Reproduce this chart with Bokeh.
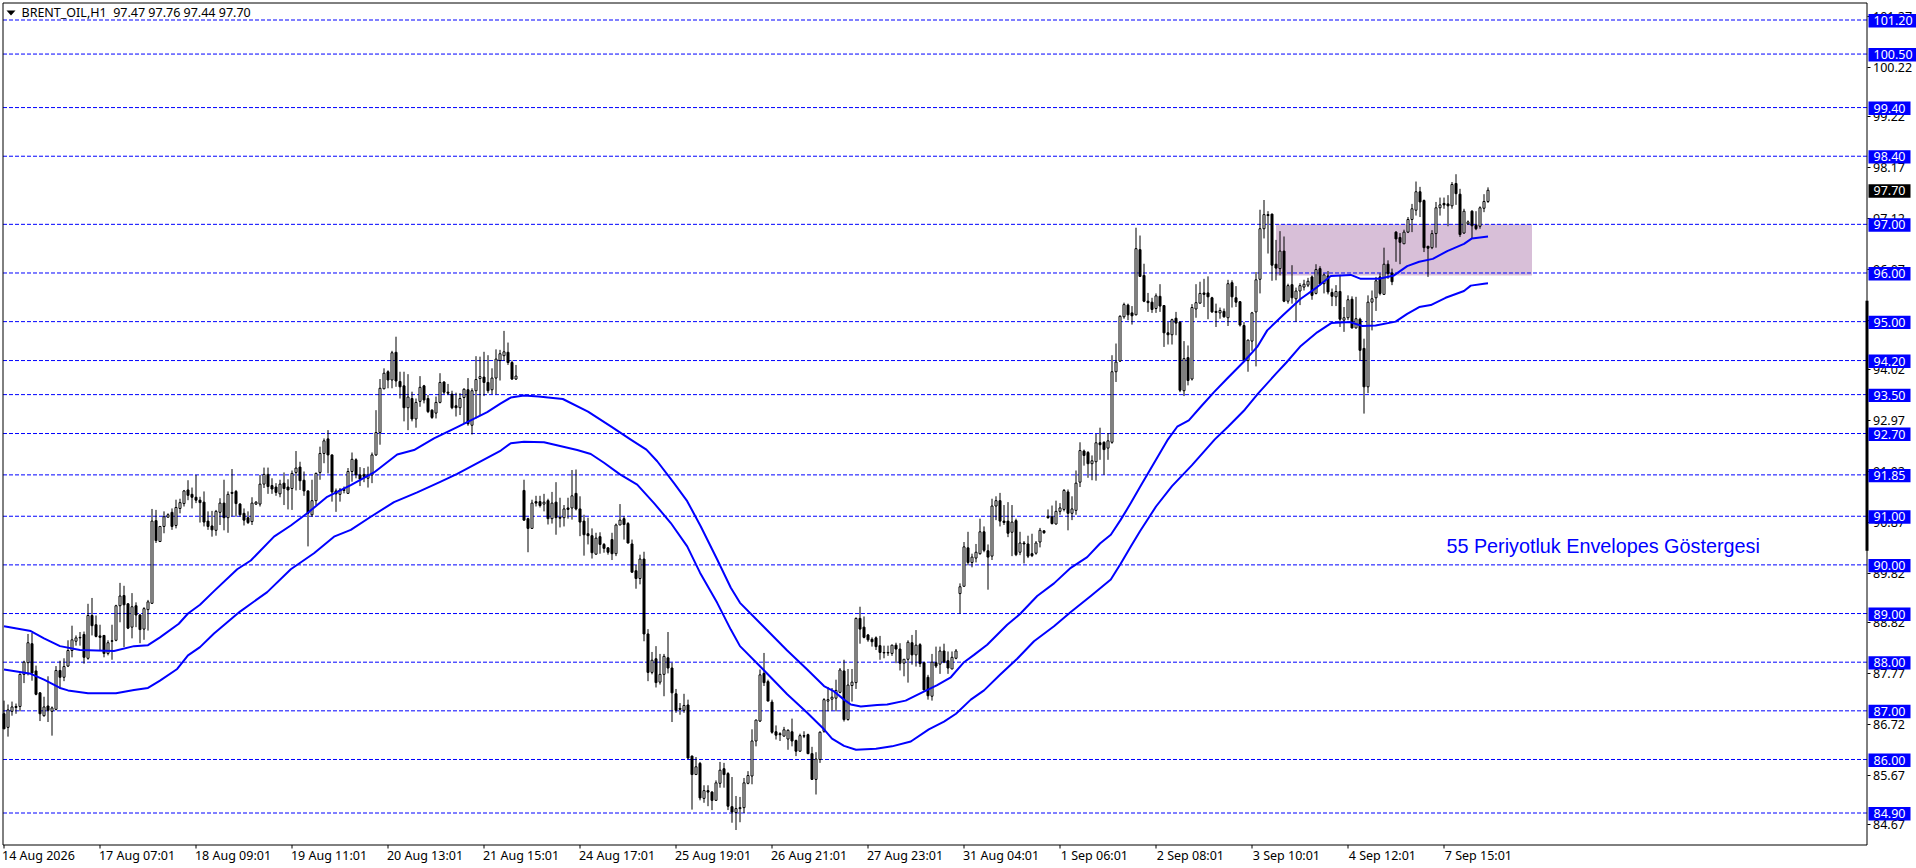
import numpy as np
from bokeh.embed import file_html
from bokeh.resources import INLINE
from bokeh.plotting import figure
from bokeh.models import FixedTicker, NumeralTickFormatter
from bokeh.core.properties import value

opens = [
86.94,86.66,86.99,87.09,87.09,87.75,87.99,88.38,87.82,87.37,
86.90,87.10,86.99,87.03,87.83,87.69,87.92,88.24,88.43,88.51,
88.57,88.08,88.96,88.77,88.54,88.55,88.18,88.44,88.45,89.16,
89.37,89.20,88.72,89.16,88.97,88.68,89.08,89.21,90.91,90.48,
90.79,90.98,91.08,90.81,91.16,91.26,91.54,91.45,91.39,91.33,
91.29,90.90,90.80,90.71,91.08,91.27,90.97,91.49,91.51,91.25,
91.06,90.97,90.89,91.25,91.25,91.66,91.86,91.63,91.60,91.46,
91.68,91.60,91.57,91.90,92.01,91.74,91.52,91.03,91.32,91.90,
92.29,92.59,92.26,91.52,91.45,91.55,91.47,91.92,92.16,91.85,
91.86,91.78,91.85,92.26,92.72,93.62,93.97,93.80,94.37,93.77,
93.68,93.23,93.42,93.00,93.36,93.68,93.42,93.18,93.12,93.34,
93.76,93.55,93.51,93.27,93.23,93.44,93.60,92.87,93.58,93.83,
93.86,93.75,93.60,93.84,94.20,94.30,94.37,94.16,93.82,None,
91.53,90.95,90.75,91.30,91.30,91.25,91.32,90.95,91.29,90.98,
90.97,91.17,91.17,91.47,91.15,90.90,90.64,90.60,90.22,90.58,
90.42,90.35,90.52,90.23,90.82,90.95,90.85,90.43,89.88,89.72,
90.12,88.58,87.79,88.07,87.59,87.75,88.09,87.88,87.35,87.05,
87.01,87.12,86.07,85.69,85.92,85.20,85.36,85.33,85.16,85.51,
85.81,85.71,85.03,84.91,84.99,85.01,85.51,85.66,86.38,86.79,
87.77,87.60,87.18,86.57,86.53,86.48,86.42,86.57,86.39,86.17,
86.49,86.51,86.12,85.59,86.00,86.58,87.20,87.24,87.26,87.38,
87.82,86.82,87.52,87.58,88.90,88.72,88.56,88.47,88.50,88.34,
88.20,88.20,88.18,88.35,88.27,87.98,88.06,88.40,88.15,88.36,
87.99,87.69,87.30,87.99,87.96,88.23,88.03,87.86,88.08,89.41,
89.56,90.35,90.05,90.14,90.23,90.68,90.29,90.18,91.21,91.32,
90.90,90.90,90.67,90.91,90.26,90.45,90.43,90.23,90.24,90.47,
90.70,91.00,90.99,90.84,91.10,91.14,91.50,91.06,91.12,91.70,
92.34,92.31,92.08,92.12,92.51,92.52,92.40,92.52,93.97,94.19,
95.10,95.34,95.18,95.14,96.48,95.95,95.42,95.40,95.27,95.52,
95.33,94.77,94.73,95.07,94.99,93.58,94.26,93.82,95.26,95.38,
95.59,95.59,95.49,95.21,95.18,95.21,95.08,95.80,95.49,95.41,
94.92,94.20,94.60,95.20,95.87,96.91,97.20,97.21,96.18,96.09,
96.45,95.42,95.76,95.47,95.63,95.71,95.75,95.92,95.58,96.09,
95.78,95.94,95.60,95.51,95.62,95.03,95.08,95.46,94.87,95.05,
94.45,93.66,95.40,95.49,95.92,95.56,96.18,96.00,96.84,96.73,
96.60,96.84,97.10,97.29,97.67,97.49,96.55,96.52,96.81,97.34,
97.43,97.42,97.38,97.84,97.62,96.82,97.01,97.27,96.98,96.96,
97.33,97.47]

highs = [
87.21,87.13,87.19,87.15,87.77,88.03,88.58,88.60,87.93,87.38,
87.29,87.71,87.09,87.92,88.03,88.08,88.45,88.75,88.55,88.62,
88.63,89.20,89.32,88.96,88.77,88.55,88.45,88.77,89.18,89.63,
89.57,89.21,89.42,89.23,88.99,89.13,89.28,91.15,91.13,90.79,
91.10,91.06,91.16,91.34,91.36,91.54,91.74,91.59,91.85,91.40,
91.51,91.10,91.11,91.13,91.37,91.75,91.51,91.97,91.54,91.27,
91.16,91.10,91.39,91.31,91.85,92.00,92.00,91.78,91.68,91.75,
91.90,91.76,91.94,92.34,92.12,91.92,91.53,91.75,91.90,92.43,
92.60,92.77,92.27,91.57,91.58,91.61,91.99,92.31,92.19,92.01,
91.99,92.02,92.31,93.18,93.82,94.04,94.00,94.40,94.69,93.97,
93.97,93.92,93.56,93.42,93.88,93.70,93.49,93.20,93.46,93.94,
93.77,93.72,93.58,93.54,93.53,93.63,93.84,93.63,94.29,94.28,
94.38,94.31,94.04,94.43,94.42,94.81,94.57,94.20,94.11,None,
91.75,90.97,91.34,91.42,91.42,91.46,91.36,91.50,91.70,91.38,
91.23,91.38,91.95,91.96,91.41,91.03,90.97,90.75,90.66,90.67,
90.45,90.36,90.66,90.85,91.25,91.00,90.88,90.52,90.00,90.21,
90.27,88.68,88.21,88.33,88.17,88.17,88.62,87.99,87.45,87.16,
87.35,87.23,86.08,86.05,85.95,85.47,85.47,85.35,85.57,85.95,
85.93,85.74,85.64,85.25,85.23,85.62,85.76,86.62,86.82,87.85,
88.19,87.64,87.23,86.70,86.56,86.67,86.62,86.84,86.41,86.53,
86.58,86.53,86.26,86.15,86.58,87.26,87.49,87.47,87.64,87.88,
88.05,87.86,87.86,88.92,89.14,88.94,88.58,88.51,88.53,88.54,
88.34,88.34,88.36,88.40,88.39,88.06,88.45,88.56,88.66,88.39,
88.01,87.74,88.17,88.32,88.32,88.38,88.22,88.22,88.27,89.62,
90.47,90.68,90.23,90.43,90.95,90.79,90.42,91.36,91.41,91.48,
91.23,91.29,91.23,90.95,90.68,90.49,90.60,90.64,90.49,90.76,
90.71,91.14,91.22,91.32,91.27,91.56,91.55,91.41,91.94,92.52,
92.37,92.34,92.25,92.69,92.82,92.54,92.71,94.31,94.55,95.13,
95.39,95.37,95.32,96.93,96.77,96.19,95.59,95.49,95.58,95.77,
95.33,94.99,95.06,95.20,95.00,94.60,94.51,95.36,95.77,95.82,
95.88,95.93,95.51,95.37,95.29,95.27,95.86,95.85,95.73,95.42,
94.99,94.63,95.20,96.02,97.30,97.50,97.27,97.22,96.68,96.86,
96.75,95.78,96.16,95.70,95.79,95.86,95.90,95.95,96.18,96.14,
95.99,96.04,95.68,95.75,95.95,95.30,95.54,95.52,95.51,95.08,
94.65,95.54,95.64,95.92,95.99,96.52,96.26,96.09,96.86,96.82,
96.89,97.15,97.42,97.88,97.77,97.51,96.55,96.88,97.46,97.55,
97.55,97.60,97.87,98.03,97.73,97.32,97.08,97.29,97.27,97.37,
97.62,97.76]

lows = [
86.63,86.47,86.90,86.94,86.99,87.57,87.73,87.62,87.32,86.79,
86.88,86.77,86.49,87.01,87.45,87.61,87.90,88.10,88.34,88.34,
87.97,88.05,88.55,88.51,88.24,88.10,88.14,88.05,88.43,88.82,
88.31,88.68,88.49,88.72,88.39,88.46,88.65,89.20,90.45,90.48,
90.65,90.98,90.72,90.75,91.06,91.20,91.33,91.16,91.27,90.87,
90.79,90.72,90.58,90.60,90.82,90.71,90.66,91.00,90.99,90.99,
90.81,90.84,90.82,91.23,91.20,91.58,91.46,91.46,91.42,91.39,
91.23,91.14,91.13,91.53,91.54,91.42,90.38,90.99,91.23,91.75,
92.09,91.88,91.30,91.09,91.30,91.47,91.46,91.71,91.78,91.62,
91.70,91.59,91.68,92.24,92.47,93.61,93.63,93.63,93.66,93.42,
92.95,92.77,92.95,92.82,93.25,93.32,93.12,93.00,93.01,93.32,
93.51,93.49,93.20,93.05,93.08,92.91,92.86,92.68,93.01,93.06,
93.47,93.53,93.51,93.51,93.79,94.20,94.11,93.80,93.80,None,
90.91,90.26,90.74,91.20,91.18,91.10,90.83,90.85,90.62,90.77,
90.79,90.95,90.93,91.12,90.59,90.19,90.42,90.13,90.21,90.23,
90.25,90.21,90.10,90.18,90.82,90.52,90.44,89.84,89.51,89.60,
88.43,87.61,87.75,87.48,87.54,87.30,87.77,86.77,86.96,86.92,
86.96,86.01,84.97,85.69,85.16,85.11,85.04,84.96,85.16,85.42,
85.42,84.96,84.70,84.55,84.71,84.90,85.49,85.49,86.27,86.77,
87.51,87.20,86.53,86.41,86.38,86.47,86.20,86.27,86.07,86.16,
86.44,86.11,85.58,85.28,85.93,86.55,86.99,87.01,86.99,87.36,
86.78,86.80,87.19,87.45,88.38,88.49,88.42,88.32,88.25,88.05,
88.08,88.13,88.13,87.98,87.83,87.71,87.58,87.95,87.91,87.90,
87.42,87.23,87.21,87.88,87.76,87.98,87.76,87.86,88.06,89.00,
89.56,89.99,89.95,90.05,90.21,90.26,89.49,90.10,90.92,90.79,
90.82,90.57,90.18,90.18,90.20,90.03,90.14,90.16,90.21,90.36,
90.64,90.95,90.83,90.83,91.03,91.10,90.71,90.92,91.03,91.60,
92.04,91.79,91.74,91.73,92.16,91.85,92.16,92.49,93.76,94.17,
95.06,95.03,94.94,95.13,95.92,95.40,95.20,95.18,95.18,95.20,
94.48,94.53,94.53,94.72,93.55,93.47,93.69,93.79,95.08,95.37,
95.30,95.05,95.18,94.89,95.06,95.08,94.91,95.29,95.30,94.90,
94.19,93.97,94.40,94.08,95.58,96.71,96.40,95.84,95.85,95.95,
95.40,95.37,95.37,95.00,95.34,95.64,95.71,95.45,95.56,95.74,
95.58,95.56,95.32,95.32,94.89,94.79,95.03,94.86,94.86,94.20,
93.11,93.53,94.82,95.22,95.54,95.55,95.88,95.75,96.23,96.18,
96.60,96.82,96.84,97.18,97.15,96.43,95.92,96.49,96.52,97.18,
97.32,96.96,97.32,97.40,96.74,96.81,96.99,96.71,96.88,96.91,
97.25,97.44]

closes = [
86.63,87.02,87.08,87.07,87.75,88.00,88.40,87.78,87.34,86.94,
87.08,87.01,87.06,87.83,87.69,87.91,88.24,88.46,88.50,88.50,
88.10,88.96,88.75,88.53,88.51,88.18,88.40,88.43,89.16,89.36,
89.18,88.70,89.14,88.97,88.67,89.10,89.24,90.90,90.50,90.79,
90.99,91.03,90.79,91.18,91.28,91.52,91.43,91.39,91.33,91.28,
90.88,90.79,90.72,91.10,91.27,90.97,91.45,91.47,91.26,91.03,
90.92,90.87,91.27,91.29,91.66,91.86,91.61,91.56,91.49,91.66,
91.57,91.54,91.88,91.99,91.73,91.52,91.06,91.32,91.88,92.29,
92.55,92.26,91.50,91.46,91.54,91.53,91.92,92.17,91.85,91.76,
91.82,91.85,92.26,92.72,93.63,93.94,93.80,94.36,93.78,93.66,
93.23,93.45,93.00,93.34,93.65,93.39,93.15,93.03,93.34,93.75,
93.55,93.53,93.23,93.23,93.42,93.61,92.90,93.58,93.81,93.87,
93.75,93.58,93.84,94.23,94.34,94.38,94.16,93.82,93.88,None,
90.92,90.75,91.27,91.27,91.22,91.29,90.95,91.27,90.97,90.96,
91.15,91.14,91.42,91.15,90.88,90.62,90.60,90.25,90.55,90.42,
90.34,90.26,90.23,90.82,90.92,90.83,90.45,89.85,89.72,90.12,
88.58,87.79,88.04,87.58,87.75,88.12,87.88,87.37,87.01,87.03,
87.11,86.03,85.69,85.85,85.21,85.36,85.33,85.16,85.52,85.78,
85.69,85.04,84.92,84.99,85.01,85.52,85.67,86.38,86.81,87.74,
87.58,87.20,86.56,86.50,86.51,86.61,86.60,86.38,86.17,86.49,
86.48,86.12,85.59,86.01,86.56,87.23,87.23,87.28,87.42,87.84,
86.82,87.53,87.59,88.90,88.68,88.51,88.46,88.42,88.32,88.20,
88.19,88.19,88.35,88.27,87.98,88.06,88.41,88.15,88.35,87.97,
87.43,87.31,88.00,87.92,88.23,88.00,87.88,88.10,88.23,89.55,
90.37,90.05,90.16,90.26,90.68,90.30,90.16,91.21,91.32,90.90,
90.87,90.65,90.88,90.21,90.45,90.43,90.18,90.19,90.45,90.71,
90.66,90.97,90.85,91.10,91.17,91.53,91.06,91.15,91.68,92.35,
92.25,92.08,92.14,92.51,92.47,92.37,92.55,93.97,94.17,95.11,
95.35,95.14,95.12,96.50,95.93,95.42,95.39,95.25,95.53,95.32,
94.77,94.73,95.04,94.97,93.59,94.24,93.79,95.29,95.39,95.58,
95.56,95.51,95.20,95.19,95.23,95.10,95.78,95.51,95.40,94.93,
94.21,94.62,95.18,95.86,96.91,97.20,97.18,96.16,96.10,96.45,
95.42,95.74,95.49,95.63,95.74,95.77,95.83,95.54,96.07,95.77,
95.96,95.61,95.52,95.62,95.05,95.08,95.45,94.87,95.06,94.41,
93.66,95.40,95.47,95.84,95.58,96.18,95.99,95.82,96.70,96.63,
96.84,97.10,97.32,97.67,97.46,96.52,96.51,96.81,97.34,97.40,
97.40,97.38,97.82,97.63,96.79,97.27,97.05,96.97,96.91,97.34,
97.47,97.70]

upper_bars = [0,6.7,10,14,19,27.5,32.5,36,39,43.7,46,49,52.5,58.3,61.7,67.5,71.7,75.8,80.8,86.7,92.5,98.3,102.5,107.5,113.3,120.8,124.2,126.7,130,133.6,139.7,146,152,156.6,160.6,163.3,167.5,170.8,174.2,178.3,181.7,184,189.8,195.8,200.8,205,207.5,210,211.7,214.2,218.3,220.8,225.4,228.3,233.3,236.7,240,242.5,245.8,250.8,254,258.3,262.5,266.7,270.8,274,276.7,279.2,281.7,284,291,293.3,296.2,299.2,302.5,305.8,310,313.3,315.8,319.6,324.2,328.3,331.7,336.7,339.2,343.8,347.5,350.8,353.8,357.2,360.8,365,367,370,371]
upper_env = [88.74,88.64,88.49,88.33,88.25,88.23,88.33,88.35,88.51,88.79,89.0,89.18,89.46,89.91,90.09,90.58,90.81,91.06,91.4,91.64,91.9,92.27,92.36,92.6,92.83,93.14,93.32,93.44,93.48,93.46,93.41,93.15,92.83,92.58,92.37,92.13,91.68,91.31,90.79,90.11,89.53,89.22,88.74,88.24,87.85,87.51,87.4,87.23,87.13,87.09,87.12,87.13,87.21,87.33,87.53,87.69,88.0,88.15,88.36,88.77,88.99,89.36,89.62,89.94,90.16,90.44,90.62,90.93,91.27,91.6,92.58,92.84,92.97,93.25,93.55,93.83,94.18,94.48,94.82,95.12,95.47,95.71,95.94,95.96,95.88,95.88,95.95,96.14,96.23,96.29,96.45,96.6,96.71,96.74,96.75]
lower_bars = [0,6.7,10,14,16,21,28,32.5,36,39,43.3,46,49,52.5,59,65.8,71.7,77.5,82.5,86.7,91.7,97.5,103.3,109.2,113.3,120.8,124.2,126.7,130,135,143.3,146.7,150,154,158.3,162.5,166.7,170.8,174,178.3,181.7,184,189.8,195.8,200.8,205,207,210,213,218,222,226.7,231.2,235,238,241.7,245,249,253.3,257.5,262.5,266.7,271.7,276.7,279.2,281.7,284,288,292,297,302.7,306,310.2,313.5,318,320.6,324.2,328.3,331.8,336.5,339.6,342.9,347.9,350.8,353.8,356.7,360.4,365,366.7,370,371]
lower_env = [87.85,87.76,87.64,87.47,87.42,87.36,87.36,87.43,87.47,87.62,87.86,88.14,88.31,88.59,89.04,89.44,89.91,90.24,90.58,90.72,90.99,91.29,91.49,91.71,91.87,92.2,92.35,92.5,92.53,92.52,92.36,92.28,92.1,91.86,91.65,91.27,90.86,90.38,89.84,89.22,88.67,88.33,87.85,87.34,86.96,86.62,86.43,86.28,86.2,86.22,86.27,86.37,86.62,86.78,86.94,87.23,87.42,87.74,88.07,88.43,88.74,89.03,89.36,89.7,90.03,90.38,90.69,91.2,91.62,92.05,92.58,92.84,93.19,93.52,93.93,94.16,94.5,94.78,94.97,94.99,94.91,94.92,95.0,95.16,95.3,95.34,95.49,95.63,95.74,95.78,95.79]

level_prices = [101.2,100.5,99.4,98.4,97.0,96.0,95.0,94.2,93.5,92.7,91.85,91.0,90.0,89.0,88.0,87.0,86.0,84.9]
scale_ticks = [101.27,100.22,99.22,98.17,97.12,96.07,95.02,94.02,92.97,91.92,90.87,89.82,88.82,87.77,86.72,85.67,84.67]
time_bars = [0,24,48,72,96,120,144,168,192,216,240,264,288,312,336,360]
time_labels = ["14 Aug 2026","17 Aug 07:01","18 Aug 09:01","19 Aug 11:01","20 Aug 13:01","21 Aug 15:01","24 Aug 17:01","25 Aug 19:01","26 Aug 21:01","27 Aug 23:01","31 Aug 04:01","1 Sep 06:01","2 Sep 08:01","3 Sep 10:01","4 Sep 12:01","7 Sep 15:01"]
last_price = 97.70
zone_bars = (318, 382)
zone_prices = (95.95, 97.0)
scale_marker_prices = (90.29, 95.43)
note_text = "55 Periyotluk Envelopes Göstergesi"
note_bar, note_price = 360.6, 90.38
header_text = "BRENT_OIL,H1\u00a0\u00a097.47 97.76 97.44 97.70"

BLUE = "#0000FF"
FONT = "Noto Sans"
W, H = 1916, 868
PX_PER_BAR = 4.0
PX_PER_PRICE = 48.65
X0 = -3.5 / PX_PER_BAR
X1 = X0 + W / PX_PER_BAR
Y1 = 84.9 + 812.5 / PX_PER_PRICE
Y0 = Y1 - H / PX_PER_PRICE


def xp(px):
    return X0 + px / PX_PER_BAR


def yp(py):
    return Y1 - py / PX_PER_PRICE


assert all(len(a) == 372 for a in (opens, highs, lows, closes))
assert len(upper_bars) == len(upper_env) and len(lower_bars) == len(lower_env)

o, h, l, c = [np.array(a, dtype=float) for a in (opens, highs, lows, closes)]
bars = np.arange(len(o))
up = c >= o
dn = c < o

p = figure(frame_width=W, frame_height=H, x_range=(X0, X1), y_range=(Y0, Y1),
           y_axis_location="right", output_backend="svg", toolbar_location=None,
           min_border=0, background_fill_color="white", border_fill_color="white")
p.grid.visible = False
p.outline_line_color = None

p.yaxis.fixed_location = xp(1866.5)
p.yaxis.ticker = FixedTicker(ticks=scale_ticks)
p.yaxis.formatter = NumeralTickFormatter(format="0.00")
p.yaxis.axis_line_color = None
p.yaxis.major_tick_in = 0
p.yaxis.major_tick_out = 3
p.yaxis.minor_tick_line_color = None
p.yaxis.major_label_standoff = 3
p.yaxis.major_label_text_font = FONT
p.yaxis.major_label_text_font_size = "12.5px"
p.yaxis.major_label_text_color = "black"

# axis labels start at their ticks in the reference, while Bokeh centres them:
# the axis carries the labels at the label centres, the tick marks are drawn at the bars
label_centres = [b + (9.25 if len(t) == 12 else 8.6) for b, t in zip(time_bars, time_labels)]
p.xaxis.fixed_location = yp(842.5)
p.xaxis.ticker = FixedTicker(ticks=label_centres)
p.xaxis.major_label_overrides = dict(zip(label_centres, time_labels))
p.xaxis.axis_line_color = None
p.xaxis.major_tick_line_color = None
p.xaxis.minor_tick_line_color = None
p.xaxis.major_tick_in = 0
p.xaxis.major_tick_out = 3
p.xaxis.major_label_standoff = 1
p.xaxis.major_label_text_font = FONT
p.xaxis.major_label_text_font_size = "12.5px"
p.xaxis.major_label_text_color = "black"

p.quad(left=[zone_bars[0]], right=[zone_bars[1]], bottom=[zone_prices[0]], top=[zone_prices[1]],
       fill_color="#D8BFD8", line_color=None)
n = len(level_prices)
p.segment(x0=[xp(2.5)] * n, x1=[xp(1866.5)] * n, y0=level_prices, y1=level_prices,
          line_color=BLUE, line_width=1, line_dash="4 2")

p.segment(x0=bars, x1=bars, y0=l, y1=h, line_color="black", line_width=1)
p.vbar(x=bars[up], width=0.5, bottom=o[up], top=c[up], fill_color="white", line_color="black", line_width=1)
p.vbar(x=bars[dn], width=0.5, bottom=c[dn], top=o[dn], fill_color="black", line_color="black", line_width=1)

p.line(upper_bars, upper_env, line_color=BLUE, line_width=2, line_join="round")
p.line(lower_bars, lower_env, line_color=BLUE, line_width=2, line_join="round")

p.text(x=[note_bar], y=[note_price], text=[note_text], text_color=BLUE, text_font=value("Liberation Sans"),
       text_font_size="19.8px", text_baseline="middle", text_align="left")

# chart border, time tick marks and thick marker on the price edge
p.quad(left=[xp(2.5)], right=[xp(1866.5)], bottom=[yp(844.5)], top=[yp(2.5)],
       fill_color=None, line_color="black", line_width=1)
p.segment(x0=time_bars, x1=time_bars, y0=[yp(844.5)] * len(time_bars), y1=[yp(848)] * len(time_bars),
          line_color="black", line_width=1)
p.quad(left=[xp(1865)], right=[xp(1868)], bottom=[scale_marker_prices[0]], top=[scale_marker_prices[1]],
       fill_color="black", line_color=None)

# price tags sit over the scale's labels
tags = level_prices + [last_price]
tag_colors = [BLUE] * n + ["black"]
p.quad(left=[xp(1868)] * len(tags),
       right=[xp(1916 if t >= 100 else 1910) for t in tags],
       bottom=[t - 0.152 for t in tags], top=[t + 0.123 for t in tags],
       fill_color=tag_colors, line_color=None, level="overlay")
p.text(x=[xp(1873)] * len(tags), y=[t - 0.012 for t in tags], text=[f"{t:.2f}" for t in tags],
       text_color="white", text_font=value(FONT), text_font_size="12.5px",
       text_baseline="middle", text_align="left", level="overlay")

p.text(x=[xp(21)], y=[yp(12)], text=[header_text], text_color="black", text_font=value(FONT),
       text_font_size="12.5px", text_baseline="middle", text_align="left")
p.patch(x=[xp(6), xp(15), xp(10.5)], y=[yp(10), yp(10), yp(15)], fill_color="black", line_color=None)

open("out.html", "w").write(file_html(p, INLINE))
